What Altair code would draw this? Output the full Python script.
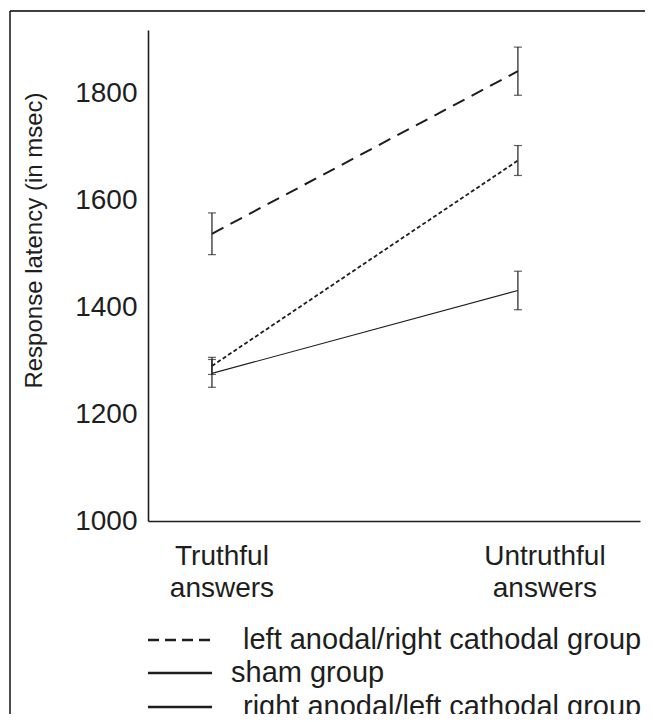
import altair as alt
import pandas as pd

categories = ["Truthful answers", "Untruthful answers"]
groups = ["left anodal/right cathodal group", "sham group", "right anodal/left cathodal group"]
mean_left_anodal = [1537, 1841]
mean_sham = [1276, 1431]
mean_right_anodal = [1290, 1674]
err_left_anodal = [39, 45]
err_sham = [26, 36]
err_right_anodal = [16, 28]
y_ticks = [1000, 1200, 1400, 1600, 1800]

means = [mean_left_anodal, mean_sham, mean_right_anodal]
errs = [err_left_anodal, err_sham, err_right_anodal]

rows = []
for g, m, e in zip(groups, means, errs):
    for i, c in enumerate(categories):
        rows.append({"group": g, "category": c, "pos": i, "mean": m[i],
                     "lo": m[i] - e[i], "hi": m[i] + e[i]})
df = pd.DataFrame(rows)

FONT = "Liberation Sans"
INK = "#1e1e1e"

xenc = alt.X("pos:Q", scale=alt.Scale(domain=[-0.209, 1.399], nice=False, zero=False),
             axis=alt.Axis(labels=False, ticks=False, grid=False, title=None,
                           domainColor=INK, domainWidth=1.6))
yscale = alt.Scale(domain=[1000, 1918], nice=False, zero=False)
yenc = alt.Y("mean:Q", scale=yscale,
             axis=alt.Axis(values=y_ticks, format="d", ticks=False, tickSize=0, grid=False,
                           domainColor=INK, domainWidth=1.6,
                           labelFont=FONT, labelFontSize=28, labelColor=INK,
                           labelPadding=11, labelOverlap=False,
                           title="Response latency (in msec)", titleFont=FONT,
                           titleFontSize=24, titleFontWeight="normal", titleColor=INK,
                           titleX=-114, titleY=210, titleAlign="center",
                           titleBaseline="middle"))

base = alt.Chart(df)

styles = [
    dict(strokeDash=[13, 8], strokeWidth=2.0),
    dict(strokeWidth=1.1),
    dict(strokeDash=[4, 2.5], strokeWidth=1.8),
]

layers = []
for g, st in zip(groups, styles):
    layers.append(
        base.transform_filter(alt.datum.group == g)
        .mark_line(color=INK, **st)
        .encode(x=xenc, y=yenc)
    )

err_rule = base.mark_rule(color=INK, strokeWidth=1.2).encode(
    x="pos:Q", y=alt.Y("lo:Q", scale=yscale), y2="hi:Q")
cap_lo = base.mark_tick(orient="horizontal", size=8, thickness=1.2, color=INK).encode(
    x="pos:Q", y=alt.Y("lo:Q", scale=yscale))
cap_hi = base.mark_tick(orient="horizontal", size=8, thickness=1.2, color=INK).encode(
    x="pos:Q", y=alt.Y("hi:Q", scale=yscale))
layers += [err_rule, cap_lo, cap_hi]

# category labels under x axis
cat_df = pd.DataFrame({"pos": [0, 1], "label": [c.replace(" ", "\n") for c in categories]})
for i, dx in [(0, 10), (1, 27)]:
    layers.append(
        alt.Chart(cat_df).transform_filter(alt.datum.pos == i)
        .mark_text(font=FONT, fontSize=28, color=INK, align="center",
                   baseline="alphabetic", lineBreak="\n", lineHeight=32, dx=dx)
        .encode(x="pos:Q", y=alt.value(535), text="label:N")
    )

# custom legend
leg_rows = [
    (groups[0], 610, 95, [11, 6]),
    (groups[1], 643, 83, None),
    (groups[2], 677, 95, None),
]
for g, yy, tx, dash in leg_rows:
    ldf = pd.DataFrame({"group": [g]})
    kw = dict(color=INK, strokeWidth=2.6)
    if dash:
        kw["strokeDash"] = dash
    layers.append(alt.Chart(ldf).mark_rule(**kw).encode(
        x=alt.value(0), x2=alt.value(64), y=alt.value(yy), y2=alt.value(yy)))
    layers.append(alt.Chart(ldf).mark_text(font=FONT, fontSize=29, color=INK,
                                           align="left", baseline="middle").encode(
        x=alt.value(tx), y=alt.value(yy), text="group:N"))

# frame (left and top edges)
fdf = pd.DataFrame({"k": [0]})
layers.append(alt.Chart(fdf).mark_rule(color="#000", strokeWidth=1.4).encode(
    x=alt.value(-138), x2=alt.value(-138), y=alt.value(-19), y2=alt.value(700)))
layers.append(alt.Chart(fdf).mark_rule(color="#000", strokeWidth=1.4).encode(
    x=alt.value(-138), x2=alt.value(497), y=alt.value(-19), y2=alt.value(-19)))

chart = alt.layer(*layers).properties(
    width=492, height=491,
    autosize=alt.AutoSizeParams(type="none"),
    padding={"left": 140, "top": 22, "right": 5, "bottom": 193},
).configure_view(stroke=None)

chart.save("out.html", embed_options={"renderer": "svg", "actions": False})
